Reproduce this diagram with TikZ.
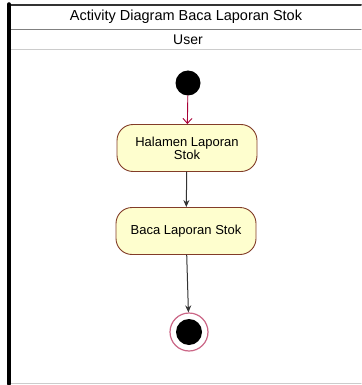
\documentclass[tikz,border=0pt]{standalone}
\usepackage{fontspec}
\setmainfont{Liberation Sans}
\usetikzlibrary{arrows.meta}
\definecolor{actfill}{RGB}{254,254,206}
\definecolor{actline}{RGB}{130,60,40}
\definecolor{umlred}{RGB}{168,0,54}

\begin{document}
\begin{tikzpicture}[x=1pt,y=-1pt,line cap=round,line join=round,font=\fontsize{13}{15}\selectfont,
  act/.style={rectangle,rounded corners=16pt,draw=actline,fill=actfill,line width=0.9pt,minimum width=140pt,minimum height=47pt,align=center,inner sep=2pt},
  flow/.style={-{Stealth[length=7pt,width=6pt]},black!80,line width=1pt},
  startflow/.style={-{Straight Barb[length=5pt,width=9pt]},umlred,line width=0.9pt}]
\useasboundingbox (0,0) rectangle (361,385);
% swimlane frame
\draw[black!80,line width=2pt] (9,5) -- (361,5);
\draw[black!50,line width=1pt] (9,30) -- (361,30);
\draw[black!20,line width=1pt] (9,50) -- (361,50);
\draw[black!20,line width=1pt] (9,383) -- (361,383);
\draw[black,line width=3.5pt] (9,4) -- (9,384);
\node[font=\fontsize{14.5}{16}\selectfont] (title) at (186,17) {Activity Diagram Baca Laporan Stok};
\node[font=\fontsize{14}{16}\selectfont] (lane) at (188,40) {User};
% activity flow
\node[circle,fill=black,minimum size=25pt,inner sep=0pt] (start) at (188,83) {};
\node[act] (halaman) at (187,148) {Halamen Laporan\\[-2pt]Stok};
\node[act] (baca) at (186,231) {Baca Laporan Stok};
\node[circle,draw=umlred!60,line width=1.2pt,fill=white,minimum size=38pt,inner sep=0pt] (end) at (189,332) {};
\fill[black] (end.center) circle (13);
\draw[startflow] (start) -- (halaman);
\draw[flow] (halaman) -- (baca);
\draw[flow] (baca) -- (end);
\end{tikzpicture}
\end{document}
